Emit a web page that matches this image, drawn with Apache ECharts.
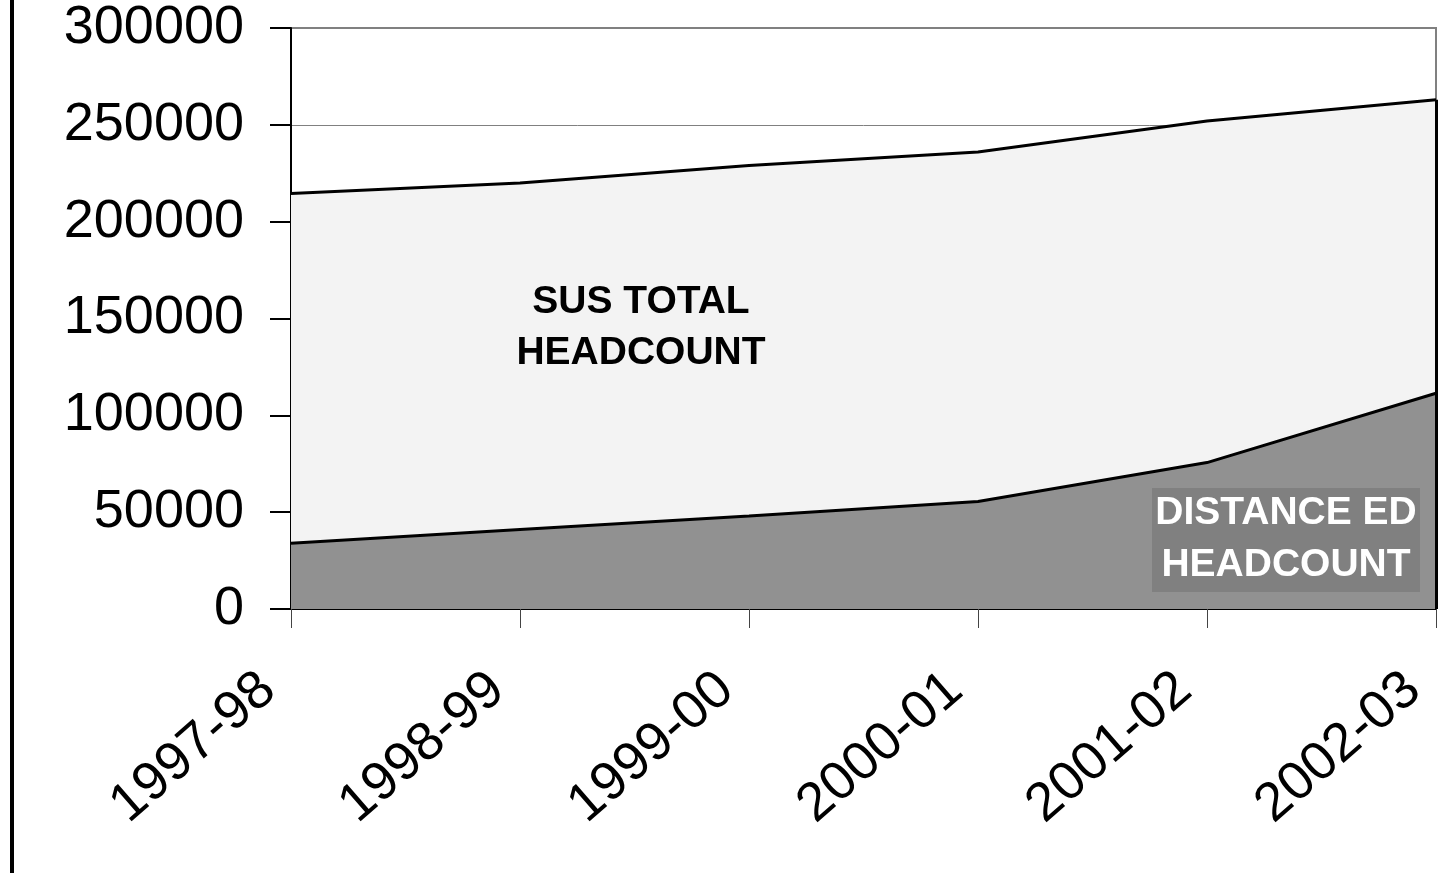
<!DOCTYPE html>
<html>
<head>
<meta charset="utf-8">
<script src="https://cdn.jsdelivr.net/npm/echarts@6/dist/echarts.min.js"></script>
<style>
html,body{margin:0;padding:0;background:#fff;overflow:hidden;}
#chart{width:1451px;height:873px;}
</style>
</head>
<body>
<div id="chart"></div>
<script>
var categories = ['1997-98','1998-99','1999-00','2000-01','2001-02','2002-03'];
var totalHeadcount = [214500, 220000, 229000, 236000, 252000, 263000];
var distanceHeadcount = [34000, 41000, 48000, 55500, 75600, 111400];
var yMin = 0, yMax = 300000, yInterval = 50000;

var FONT = '"Liberation Sans", Arial, sans-serif';
var chart = echarts.init(document.getElementById('chart'));
var last = categories.length - 1;

chart.setOption({
  animation: false,
  backgroundColor: '#ffffff',
  grid: {left: 291, right: 15, top: 28, bottom: 264, show: true, borderColor: '#808080', borderWidth: 2, backgroundColor: 'transparent'},
  xAxis: {
    type: 'category',
    data: categories,
    boundaryGap: false,
    axisLine: {show: true, lineStyle: {color: '#000', width: 2}},
    axisTick: {show: true, alignWithLabel: true, length: 19, lineStyle: {color: '#444', width: 1}},
    axisLabel: {rotate: 41, fontSize: 54, fontFamily: FONT, color: '#000', margin: 54, padding: [0, 30, 0, 0], interval: 0},
    splitLine: {show: false}
  },
  yAxis: {
    type: 'value',
    min: yMin, max: yMax, interval: yInterval,
    axisLine: {show: true, lineStyle: {color: '#000', width: 2}},
    axisTick: {show: true, inside: false, length: 21, lineStyle: {color: '#000', width: 2}},
    axisLabel: {fontSize: 54, fontFamily: FONT, color: '#000', margin: 47, formatter: function (v) { return String(v); }},
    splitLine: {show: true, lineStyle: {color: '#808080', width: 1}}
  },
  series: [
    {
      name: 'SUS TOTAL HEADCOUNT',
      type: 'line',
      data: totalHeadcount,
      symbol: 'none',
      lineStyle: {color: '#000', width: 3},
      areaStyle: {color: '#f3f3f3', opacity: 1},
      z: 2,
      markLine: {
        silent: true, symbol: 'none', label: {show: false},
        lineStyle: {color: '#000', width: 3, type: 'solid'},
        data: [[{coord: [categories[last], yMin]}, {coord: [categories[last], totalHeadcount[last]]}]]
      }
    },
    {
      name: 'DISTANCE ED HEADCOUNT',
      type: 'line',
      data: distanceHeadcount,
      symbol: 'none',
      lineStyle: {color: '#000', width: 3},
      areaStyle: {color: '#919191', opacity: 1},
      z: 3
    }
  ],
  graphic: [
    {type: 'rect', left: 10, top: 0, shape: {width: 4, height: 873}, style: {fill: '#000'}},
    {type: 'text', x: 641, y: 328, z: 10, style: {text: 'SUS TOTAL\nHEADCOUNT', font: 'bold 39px ' + FONT, fill: '#000', align: 'center', verticalAlign: 'middle', lineHeight: 51}},
    {type: 'rect', x: 1152, y: 488, z: 10, shape: {width: 268, height: 104}, style: {fill: '#808080'}},
    {type: 'text', x: 1286, y: 539, z: 11, style: {text: 'DISTANCE ED\nHEADCOUNT', font: 'bold 39px ' + FONT, fill: '#fff', align: 'center', verticalAlign: 'middle', lineHeight: 52}}
  ]
});
</script>
</body>
</html>
